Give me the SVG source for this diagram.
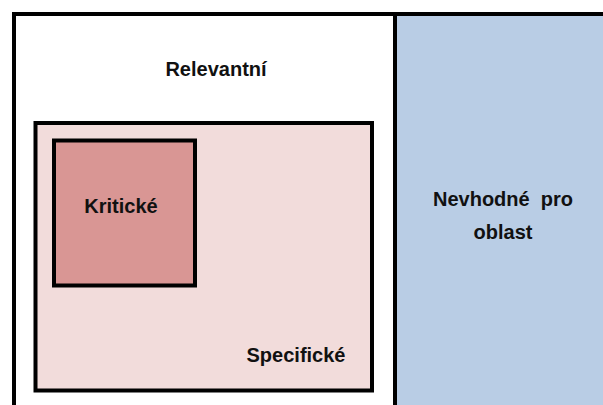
<svg xmlns="http://www.w3.org/2000/svg" width="603" height="405" viewBox="0 0 603 405">
<style>
.lbl{font-family:"Liberation Sans",Arial,sans-serif;font-weight:bold;font-size:20px;fill:#111;text-anchor:middle;white-space:pre}
.box{stroke:#000;stroke-width:4}
</style>
<rect width="603" height="405" fill="#fff"/>
<g id="nevhodne">
<rect x="395" y="14" width="212" height="395" fill="#B9CDE5" class="box"/>
<text class="lbl" x="503" y="206">Nevhodné  pro</text>
<text class="lbl" x="503" y="239">oblast</text>
</g>
<g id="relevantni">
<rect x="14" y="14" width="381" height="395" fill="#fff" class="box"/>
<text class="lbl" x="216" y="76">Relevantní</text>
</g>
<g id="specificke">
<rect x="35.5" y="123" width="336.5" height="267.5" fill="#F2DCDB" class="box"/>
<text class="lbl" x="296" y="362">Specifické</text>
</g>
<g id="kriticke">
<rect x="54" y="140.5" width="141" height="145" fill="#D99694" class="box"/>
<text class="lbl" x="121" y="213">Kritické</text>
</g>
<g id="connectors"/>
</svg>
